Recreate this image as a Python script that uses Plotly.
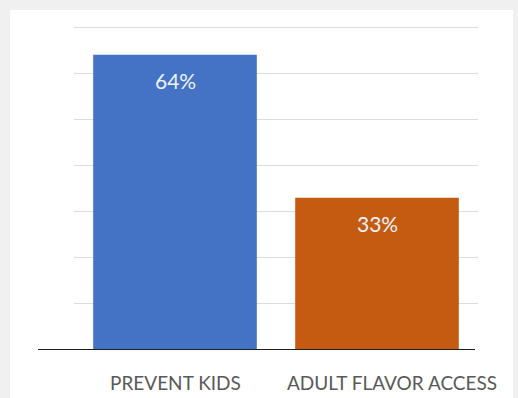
import plotly.graph_objects as go

# Survey results
categories = ["PREVENT KIDS", "ADULT FLAVOR ACCESS"]
values = [64, 33]
bar_colors = ["#4472C4", "#C55A11"]
y_ticks = [0, 10, 20, 30, 40, 50, 60, 70]
label_nudge = [0, 15]  # the long label sits a little right of its bar

W, H = 518, 398
Y_MAX = 72
PX_PER_UNIT = (350 - 27) / 70

fig = go.Figure()
fig.add_trace(go.Bar(
    x=categories,
    y=values,
    marker=dict(color=bar_colors, line=dict(width=0)),
    hoverinfo="skip",
))

# value labels inside the top of each bar
for c, v in zip(categories, values):
    fig.add_annotation(
        x=c, y=v, xref="x", yref="y",
        text=f"{v}%", showarrow=False,
        yanchor="middle", yshift=-26,
        font=dict(family="Lato", size=21, color="#EEF2FA"),
    )

# category labels under the baseline
for c, dx in zip(categories, label_nudge):
    fig.add_annotation(
        x=c, y=0, xref="x", yref="y",
        text=c, showarrow=False,
        yanchor="middle", yshift=-32, xshift=dx,
        font=dict(family="Lato", size=19, color="#595959"),
    )

shapes = [
    # white chart panel on the grey page
    dict(type="rect", xref="paper", yref="paper",
         x0=10 / W, x1=513 / W, y0=0, y1=1 - 10 / H,
         fillcolor="white", line=dict(width=0), layer="below"),
    # baseline
    dict(type="line", xref="paper", yref="y",
         x0=38 / W, x1=475 / W, y0=0, y1=0,
         line=dict(color="#1F1F1F", width=2), layer="above"),
]

fig.update_layout(
    width=W, height=H,
    margin=dict(l=0, r=0, t=0, b=0),
    paper_bgcolor="#F0F0F0",
    plot_bgcolor="rgba(0,0,0,0)",
    showlegend=False,
    bargap=0.19,
    shapes=shapes,
    xaxis=dict(
        domain=[74 / W, 478 / W],
        range=[-0.5, 1.5], autorange=False,
        showgrid=False, zeroline=False, showline=False, ticks="",
        showticklabels=False,
    ),
    yaxis=dict(
        domain=[(H - 350) / H, (H - 350 + Y_MAX * PX_PER_UNIT) / H],
        range=[0, Y_MAX], autorange=False,
        tickvals=y_ticks,
        showticklabels=False,
        showgrid=True, gridcolor="#DCDCDC", gridwidth=1,
        zeroline=False, showline=False,
    ),
)

fig.write_html("out.html")
